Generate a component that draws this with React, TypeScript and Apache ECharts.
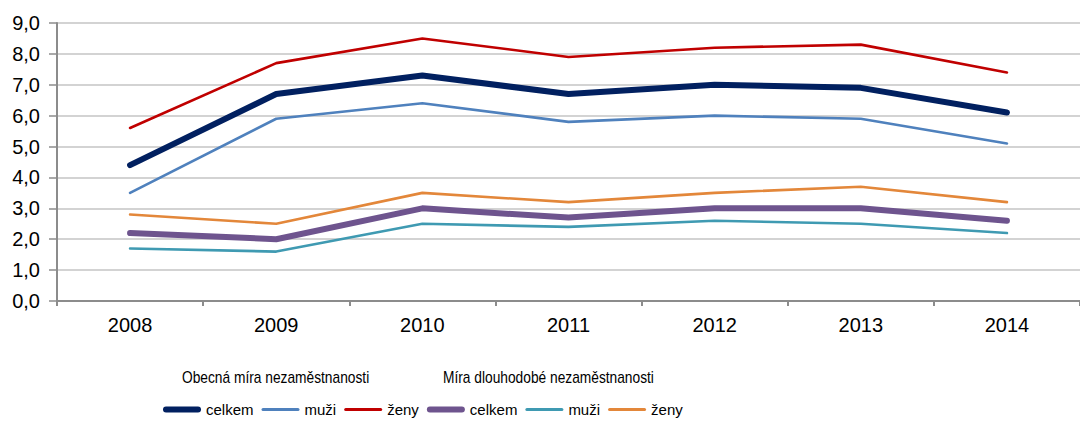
import React, { useEffect, useRef } from "react";
import * as echarts from "echarts";

const years = ["2008", "2009", "2010", "2011", "2012", "2013", "2014"];

const obecnaCelkem = [4.4, 6.7, 7.3, 6.7, 7.0, 6.9, 6.1];
const obecnaMuzi = [3.5, 5.9, 6.4, 5.8, 6.0, 5.9, 5.1];
const obecnaZeny = [5.6, 7.7, 8.5, 7.9, 8.2, 8.3, 7.4];

const dlouhCelkem = [2.2, 2.0, 3.0, 2.7, 3.0, 3.0, 2.6];
const dlouhMuzi = [1.7, 1.6, 2.5, 2.4, 2.6, 2.5, 2.2];
const dlouhZeny = [2.8, 2.5, 3.5, 3.2, 3.5, 3.7, 3.2];

const groupTitles = ["Obecná míra nezaměstnanosti", "Míra dlouhodobé nezaměstnanosti"];
const legendLabels = ["celkem", "muži", "ženy", "celkem", "muži", "ženy"];

const FONT = "'Liberation Sans', Arial, sans-serif";

const THICK_ICON = "path://M3,0h32a3,3 0 0 1 0,6h-32a3,3 0 0 1 0,-6z";
const THIN_ICON = "path://M1.5,0h35a1.5,1.5 0 0 1 0,3h-35a1.5,1.5 0 0 1 0,-3z";

export default function App() {
  const ref = useRef<HTMLDivElement>(null);

  useEffect(() => {
    if (!ref.current) return;
    const chart = echarts.init(ref.current, undefined, { renderer: "svg" });

    const seriesDefs = [
      { key: "o_celkem", data: obecnaCelkem, color: "#012060", width: 6 },
      { key: "o_muzi", data: obecnaMuzi, color: "#4F81BD", width: 2.6 },
      { key: "o_zeny", data: obecnaZeny, color: "#C00000", width: 2.6 },
      { key: "d_celkem", data: dlouhCelkem, color: "#6E548E", width: 6 },
      { key: "d_muzi", data: dlouhMuzi, color: "#3F9AB2", width: 2.6 },
      { key: "d_zeny", data: dlouhZeny, color: "#E3873A", width: 2.6 },
    ];
    const labelMap: Record<string, string> = {};
    seriesDefs.forEach((s, i) => (labelMap[s.key] = legendLabels[i]));

    chart.setOption({
      animation: false,
      textStyle: { fontFamily: FONT },
      grid: { left: 57, right: -13, top: 23, bottom: 122, containLabel: false },
      legend: {
        left: 163,
        top: 402,
        padding: 0,
        itemWidth: 38,
        itemHeight: 12,
        itemGap: 8,
        data: seriesDefs.map((s) => ({
          name: s.key,
          icon: s.width > 4 ? THICK_ICON : THIN_ICON,
          itemStyle: { color: s.color },
        })),
        formatter: (name: string) => labelMap[name],
        textStyle: { fontSize: 15, color: "#000", fontFamily: FONT },
      },
      graphic: [
        {
          type: "text",
          x: 182,
          y: 377,
          scaleX: 0.86,
          style: {
            text: groupTitles[0],
            fontSize: 16,
            fill: "#000",
            fontFamily: FONT,
            textVerticalAlign: "middle",
            verticalAlign: "middle",
          },
        },
        {
          type: "text",
          x: 443,
          y: 377,
          scaleX: 0.86,
          style: {
            text: groupTitles[1],
            fontSize: 16,
            fill: "#000",
            fontFamily: FONT,
            textVerticalAlign: "middle",
            verticalAlign: "middle",
          },
        },
      ],
      xAxis: {
        type: "category",
        data: years,
        boundaryGap: true,
        axisLine: { lineStyle: { color: "#8c8c8c", width: 2 } },
        axisTick: { show: true, length: 5, lineStyle: { color: "#8c8c8c", width: 2 } },
        axisLabel: { fontSize: 20, color: "#000", margin: 14, fontFamily: FONT },
        splitLine: { show: false },
      },
      yAxis: {
        type: "value",
        min: 0,
        max: 9,
        interval: 1,
        axisLine: { show: true, lineStyle: { color: "#8c8c8c", width: 2 } },
        axisTick: { show: true, length: 8, lineStyle: { color: "#8c8c8c", width: 1.5 } },
        axisLabel: {
          fontSize: 20,
          color: "#000",
          margin: 17,
          fontFamily: FONT,
          formatter: (v: number) => v.toFixed(1).replace(".", ","),
        },
        splitLine: { lineStyle: { color: "#c4c4c4", width: 1.5 } },
      },
      series: seriesDefs.map((s) => ({
        name: s.key,
        type: "line",
        data: s.data,
        symbol: "none",
        showSymbol: false,
        lineStyle: { color: s.color, width: s.width, cap: "round", join: "round" },
        itemStyle: { color: s.color },
      })),
    });

    return () => chart.dispose();
  }, []);

  return (
    <div
      ref={ref}
      style={{ position: "fixed", left: 0, top: 0, width: 1080, height: 423, background: "#fff" }}
    />
  );
}
